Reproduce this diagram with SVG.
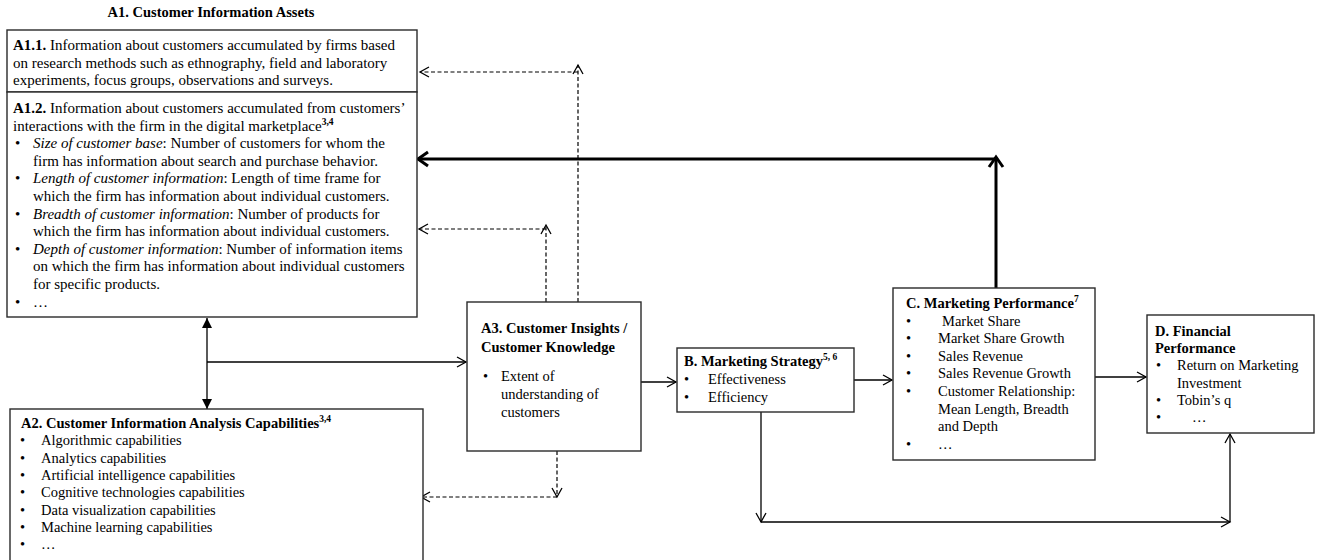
<svg xmlns="http://www.w3.org/2000/svg" width="1320" height="560" viewBox="0 0 1320 560">
<style>
.t{font-family:"Liberation Serif","Times New Roman",serif;font-size:14.5px;fill:#000}
.a1{font-size:15px}
.b{font-weight:bold}
.i{font-style:italic}
.sup{font-size:9.5px;font-weight:bold}
.box{fill:#fff;stroke:#2a2a2a;stroke-width:1.4}
.ln{fill:none;stroke:#000;stroke-width:1.3}
.dash{fill:none;stroke:#000;stroke-width:1.2;stroke-dasharray:4 2.5}
.thick{fill:none;stroke:#000;stroke-width:3}
</style>
<defs>
<marker id="open" viewBox="-1 -1 12 12" refX="9" refY="5" markerWidth="12" markerHeight="12" orient="auto" markerUnits="userSpaceOnUse">
<path d="M0,0 L9,5 L0,10" fill="none" stroke="#000" stroke-width="1.3"/>
</marker>
<marker id="thk" viewBox="-2 -2 16 18" refX="10" refY="7" markerWidth="16" markerHeight="18" orient="auto" markerUnits="userSpaceOnUse">
<path d="M0,0 L10,7 L0,14" fill="none" stroke="#000" stroke-width="3"/>
</marker>
<marker id="fill" viewBox="0 0 10 10" refX="10" refY="5" markerWidth="10" markerHeight="10" orient="auto-start-reverse" markerUnits="userSpaceOnUse">
<path d="M0,0 L10,5 L0,10 Z" fill="#000"/>
</marker>
</defs>

<g id="connectors">
<line class="dash" x1="578" y1="302" x2="578" y2="65" marker-end="url(#open)"/>
<line class="dash" x1="578" y1="72" x2="420" y2="72" marker-end="url(#open)"/>
<line class="dash" x1="546" y1="302" x2="546" y2="225" marker-end="url(#open)"/>
<line class="dash" x1="546" y1="229" x2="419" y2="229" marker-end="url(#open)"/>
<line class="dash" x1="557" y1="451" x2="557" y2="497" marker-end="url(#open)"/>
<line class="dash" x1="557" y1="497" x2="421" y2="497" marker-end="url(#open)"/>
<line class="thick" x1="996" y1="288" x2="996" y2="157" marker-end="url(#thk)"/>
<line class="thick" x1="996" y1="159" x2="418" y2="159" marker-end="url(#thk)"/>
<line class="ln" x1="207" y1="318" x2="207" y2="409" marker-start="url(#fill)" marker-end="url(#fill)"/>
<line class="ln" x1="207" y1="362" x2="466" y2="362" marker-end="url(#open)"/>
<line class="ln" x1="641" y1="382" x2="676" y2="382" marker-end="url(#open)"/>
<line class="ln" x1="854" y1="380" x2="892" y2="380" marker-end="url(#open)"/>
<line class="ln" x1="1095" y1="377" x2="1146" y2="377" marker-end="url(#open)"/>
<line class="ln" x1="761" y1="412" x2="761" y2="522" marker-end="url(#open)"/>
<line class="ln" x1="761" y1="522" x2="1230" y2="522" marker-end="url(#open)"/>
<line class="ln" x1="1230" y1="522" x2="1230" y2="434" marker-end="url(#open)"/>
</g>

<g id="A1-title">
<text class="t b" x="211" y="17" text-anchor="middle">A1. Customer Information Assets</text>
</g>

<g id="A1-1">
<rect class="box" x="7" y="30" width="410" height="62"/>
<text class="t a1" x="13" y="50"><tspan class="b">A1.1.</tspan> Information about customers accumulated by firms based</text>
<text class="t a1" x="13" y="67.5">on research methods such as ethnography, field and laboratory</text>
<text class="t a1" x="13" y="85">experiments, focus groups, observations and surveys.</text>
</g>

<g id="A1-2">
<rect class="box" x="7" y="92" width="410" height="225"/>
<text class="t a1" x="13" y="113"><tspan class="b">A1.2.</tspan> Information about customers accumulated from customers’</text>
<text class="t a1" x="13" y="130.6">interactions with the firm in the digital marketplace<tspan class="sup" dy="-6">3,4</tspan></text>
<text class="t a1" x="15" y="148.2">•</text>
<text class="t a1" x="33" y="148.2"><tspan class="i">Size of customer base</tspan>: Number of customers for whom the</text>
<text class="t a1" x="33" y="165.8">firm has information about search and purchase behavior.</text>
<text class="t a1" x="15" y="183.4">•</text>
<text class="t a1" x="33" y="183.4"><tspan class="i">Length of customer information</tspan>: Length of time frame for</text>
<text class="t a1" x="33" y="201">which the firm has information about individual customers.</text>
<text class="t a1" x="15" y="218.6">•</text>
<text class="t a1" x="33" y="218.6"><tspan class="i">Breadth of customer information</tspan>: Number of products for</text>
<text class="t a1" x="33" y="236.2">which the firm has information about individual customers.</text>
<text class="t a1" x="15" y="253.8">•</text>
<text class="t a1" x="33" y="253.8"><tspan class="i">Depth of customer information</tspan>: Number of information items</text>
<text class="t a1" x="33" y="271.4">on which the firm has information about individual customers</text>
<text class="t a1" x="33" y="289">for specific products.</text>
<text class="t a1" x="15" y="306.6">•</text>
<text class="t a1" x="33" y="306.6">…</text>
</g>

<g id="A2">
<rect class="box" x="10" y="409" width="413" height="160"/>
<text class="t b" x="21" y="428">A2. Customer Information Analysis Capabilities<tspan class="sup" dy="-6">3,4</tspan></text>
<text class="t" x="20" y="445.3">•</text><text class="t" x="41" y="445.3">Algorithmic capabilities</text>
<text class="t" x="20" y="462.6">•</text><text class="t" x="41" y="462.6">Analytics capabilities</text>
<text class="t" x="20" y="479.9">•</text><text class="t" x="41" y="479.9">Artificial intelligence capabilities</text>
<text class="t" x="20" y="497.2">•</text><text class="t" x="41" y="497.2">Cognitive technologies capabilities</text>
<text class="t" x="20" y="514.5">•</text><text class="t" x="41" y="514.5">Data visualization capabilities</text>
<text class="t" x="20" y="531.8">•</text><text class="t" x="41" y="531.8">Machine learning capabilities</text>
<text class="t" x="20" y="549.1">•</text><text class="t" x="41" y="549.1">…</text>
</g>

<g id="A3">
<rect class="box" x="467" y="302" width="174" height="149"/>
<text class="t b" x="481" y="333">A3. Customer Insights /</text>
<text class="t b" x="481" y="351.5">Customer Knowledge</text>
<text class="t" x="483" y="380.5">•</text>
<text class="t" x="501" y="380.5">Extent of</text>
<text class="t" x="501" y="398.5">understanding of</text>
<text class="t" x="501" y="416.5">customers</text>
</g>

<g id="B">
<rect class="box" x="677" y="348" width="177" height="64"/>
<text class="t b" x="684" y="366">B. Marketing Strategy<tspan class="sup" dy="-6">5, 6</tspan></text>
<text class="t" x="684" y="384">•</text><text class="t" x="708" y="384">Effectiveness</text>
<text class="t" x="684" y="401.5">•</text><text class="t" x="708" y="401.5">Efficiency</text>
</g>

<g id="C">
<rect class="box" x="893" y="288" width="202" height="172"/>
<text class="t b" x="906" y="308">C. Marketing Performance<tspan class="sup" dy="-6">7</tspan></text>
<text class="t" x="906" y="325.6">•</text><text class="t" x="942" y="325.6">Market Share</text>
<text class="t" x="906" y="343.2">•</text><text class="t" x="938" y="343.2">Market Share Growth</text>
<text class="t" x="906" y="360.8">•</text><text class="t" x="938" y="360.8">Sales Revenue</text>
<text class="t" x="906" y="378.4">•</text><text class="t" x="938" y="378.4">Sales Revenue Growth</text>
<text class="t" x="906" y="396">•</text><text class="t" x="938" y="396">Customer Relationship:</text>
<text class="t" x="938" y="413.6">Mean Length, Breadth</text>
<text class="t" x="938" y="431.2">and Depth</text>
<text class="t" x="906" y="448.8">•</text><text class="t" x="938" y="448.8">…</text>
</g>

<g id="D">
<rect class="box" x="1147" y="315" width="167" height="118"/>
<text class="t b" x="1155" y="336">D. Financial</text>
<text class="t b" x="1155" y="353.2">Performance</text>
<text class="t" x="1156" y="370.4">•</text><text class="t" x="1177" y="370.4">Return on Marketing</text>
<text class="t" x="1177" y="387.6">Investment</text>
<text class="t" x="1156" y="404.8">•</text><text class="t" x="1177" y="404.8">Tobin’s q</text>
<text class="t" x="1156" y="422">•</text><text class="t" x="1192" y="422">…</text>
</g>
</svg>
